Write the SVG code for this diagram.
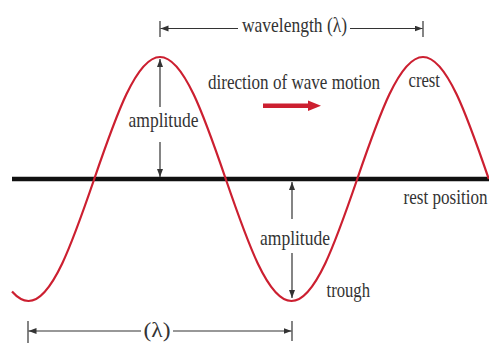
<svg xmlns="http://www.w3.org/2000/svg" width="489" height="343" viewBox="0 0 489 343">
  <defs>
    <style>
      .lbl { font-family: "Liberation Serif", "DejaVu Serif", serif; font-size: 22px; fill: #333333; }
      .dim { stroke: #333333; stroke-width: 1.2; fill: none; }
      .tick { stroke: #333333; stroke-width: 1.2; }
      .wave { stroke: #cc1f30; stroke-width: 2.2; fill: none; }
      .rest { stroke: #111111; stroke-width: 4.5; }
    </style>
    <marker id="ah" markerUnits="userSpaceOnUse" markerWidth="9" markerHeight="7" refX="8" refY="3" orient="auto">
      <path d="M0,0 L8,3 L0,6 z" fill="#333333"/>
    </marker>
  </defs>
  <rect width="489" height="343" fill="#ffffff"/>

  <g id="rest-line">
    <line class="rest" x1="12" y1="179" x2="489" y2="179"/>
  </g>

  <g id="wave">
    <path class="wave" d="M12,291.6 C17.5,297.8 23,301 28.5,301 C52.18,301 72.81,241.5 94.25,179 C115.69,116.5 136.32,57 160,57 C183.68,57 204.31,116.5 225.75,179 C247.19,241.5 267.82,301 291.5,301 C315.18,301 335.81,241.5 357.25,179 C378.69,116.5 399.32,57 423,57 C446.68,57 467.31,116.5 488.75,179"/>
  </g>

  <g id="connectors">
    <line class="tick" x1="160" y1="21" x2="160" y2="37"/>
    <line class="tick" x1="423" y1="21" x2="423" y2="37"/>
    <line class="dim" x1="238" y1="28.5" x2="160.5" y2="28.5" marker-end="url(#ah)"/>
    <line class="dim" x1="350" y1="28.5" x2="422.5" y2="28.5" marker-end="url(#ah)"/>
    <line class="dim" x1="160" y1="107" x2="160" y2="59" marker-end="url(#ah)"/>
    <line class="dim" x1="160" y1="142" x2="160" y2="177" marker-end="url(#ah)"/>
    <line class="dim" x1="292" y1="219" x2="292" y2="182" marker-end="url(#ah)"/>
    <line class="dim" x1="292" y1="253" x2="292" y2="298" marker-end="url(#ah)"/>
    <line class="tick" x1="28" y1="321" x2="28" y2="343"/>
    <line class="tick" x1="292" y1="321" x2="292" y2="341"/>
    <line class="dim" x1="141" y1="331" x2="28.5" y2="331" marker-end="url(#ah)"/>
    <line class="dim" x1="173" y1="331" x2="291.5" y2="331" marker-end="url(#ah)"/>
  </g>

  <g id="motion-arrow">
    <rect x="263" y="103.5" width="47" height="4.5" fill="#cc1f30"/>
    <polygon points="308,100.5 321,105.75 308,111" fill="#cc1f30"/>
  </g>

  <g id="label-wavelength">
    <text class="lbl" x="242" y="31.5" font-size="21" textLength="105" lengthAdjust="spacingAndGlyphs">wavelength (λ)</text>
  </g>
  <g id="label-direction">
    <text class="lbl" x="208" y="88.5" textLength="172" lengthAdjust="spacingAndGlyphs">direction of wave motion</text>
  </g>
  <g id="label-crest">
    <text class="lbl" x="408.5" y="86.5" textLength="31.5" lengthAdjust="spacingAndGlyphs">crest</text>
  </g>
  <g id="label-amplitude-1">
    <text class="lbl" x="128.5" y="126.5" textLength="70" lengthAdjust="spacingAndGlyphs">amplitude</text>
  </g>
  <g id="label-rest-position">
    <text class="lbl" x="403.5" y="203.5" textLength="84" lengthAdjust="spacingAndGlyphs">rest position</text>
  </g>
  <g id="label-amplitude-2">
    <text class="lbl" x="260" y="245" textLength="70" lengthAdjust="spacingAndGlyphs">amplitude</text>
  </g>
  <g id="label-trough">
    <text class="lbl" x="326.5" y="296.5" textLength="43.5" lengthAdjust="spacingAndGlyphs">trough</text>
  </g>
  <g id="label-lambda">
    <text class="lbl" x="143.5" y="336.5" font-size="21" textLength="27" lengthAdjust="spacingAndGlyphs">(λ)</text>
  </g>
</svg>
